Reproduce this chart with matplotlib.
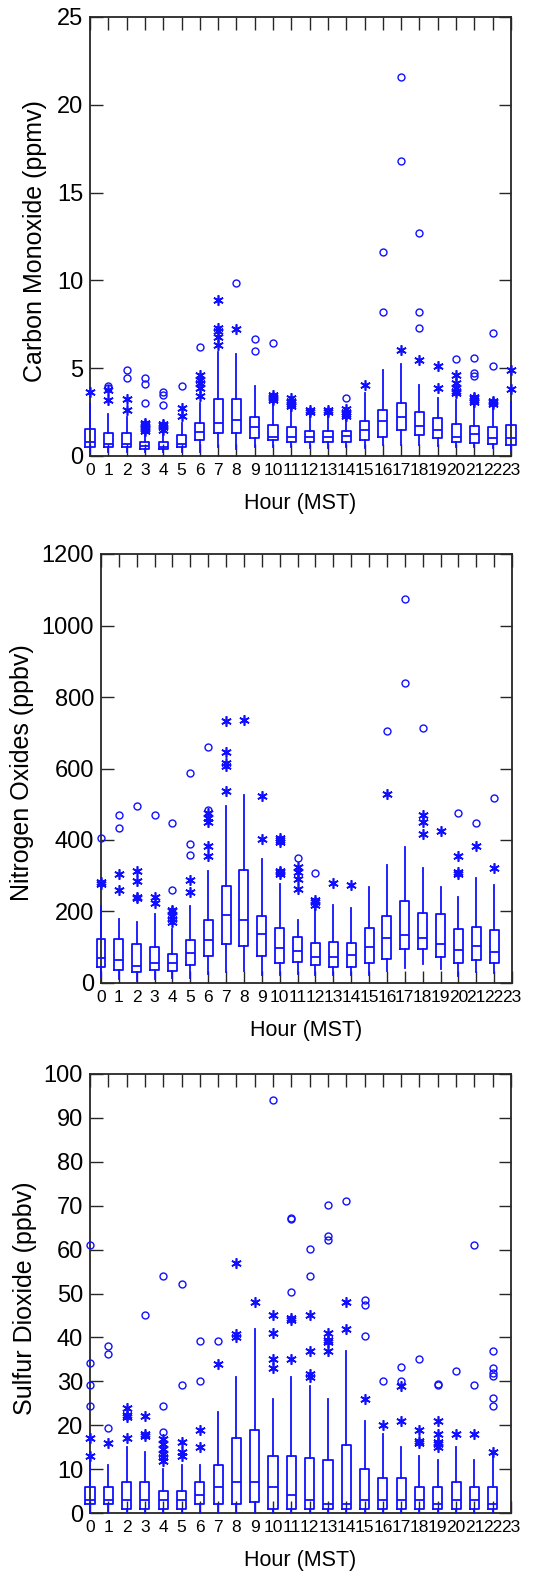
import matplotlib
matplotlib.use('Agg')
import matplotlib.pyplot as plt
from matplotlib import font_manager as fm

# ---------------- data ----------------
hours = list(range(24))
hour_labels = [str(h) for h in hours]

# Carbon monoxide (ppmv), hours 0-23
co_q1 = [0.49, 0.49, 0.49, 0.40, 0.40, 0.51, 0.91, 1.31, 1.31, 1.04, 0.91, 0.81,
         0.78, 0.78, 0.78, 0.91, 1.10, 1.48, 1.19, 1.00, 0.80, 0.76, 0.68, 0.63]
co_med = [0.81, 0.68, 0.70, 0.59, 0.53, 0.70, 1.34, 1.89, 2.03, 1.63, 1.10, 1.10,
          1.08, 1.10, 1.14, 1.48, 1.97, 2.20, 1.72, 1.48, 1.10, 1.23, 1.04, 1.03]
co_q3 = [1.52, 1.33, 1.33, 0.80, 0.81, 1.21, 1.89, 3.22, 3.22, 2.20, 1.78, 1.63,
         1.44, 1.42, 1.44, 2.00, 2.61, 2.99, 2.52, 2.14, 1.80, 1.72, 1.63, 1.75]
co_whi = [2.95, 2.42, 2.20, 1.40, 1.35, 1.90, 3.00, 5.90, 5.80, 4.00, 3.15, 2.60,
          2.45, 2.45, 2.10, 3.60, 4.89, 5.23, 4.02, 3.33, 3.20, 3.05, 2.90, 3.10]
co_wlo = [0.20, 0.20, 0.20, 0.20, 0.20, 0.20, 0.25, 0.50, 0.40, 0.50, 0.50, 0.50,
          0.45, 0.45, 0.50, 0.45, 0.65, 0.65, 0.60, 0.55, 0.50, 0.50, 0.45, 0.30]
co_star = [[3.62], [3.2, 3.75], [2.6, 3.22], [1.45, 1.55, 1.62, 1.7, 1.8, 1.88],
           [1.5, 1.65, 1.75, 1.85], [2.27, 2.75], [3.4, 3.9, 4.15, 4.35, 4.6],
           [6.3, 6.8, 7.1, 7.3, 8.9], [7.22], [], [3.2, 3.3, 3.38, 3.45],
           [2.85, 2.95, 3.05, 3.15, 3.3], [2.5, 2.6], [2.5, 2.6], [2.25, 2.4, 2.5, 2.7],
           [4.03], [], [6.02], [5.49], [3.9, 5.11], [3.6, 3.7, 3.85, 4.17, 4.6],
           [3.1, 3.2, 3.3, 3.37], [2.95, 3.05, 3.15], [3.8, 4.9]]
co_circ = [[], [3.88, 3.98], [4.45, 4.89], [3.0, 4.1, 4.45], [2.9, 3.5, 3.65], [3.98],
           [6.2], [], [9.87], [5.99, 6.69], [6.46], [], [], [], [3.28], [],
           [8.2, 11.6], [16.8, 21.6], [7.3, 8.2, 12.7], [], [5.5], [4.58, 4.7, 5.6],
           [5.15, 7.03], []]

# Nitrogen oxides (ppbv), hours 0-22
nox_q1 = [43.5, 36, 32, 36, 34, 51, 76, 110, 104, 76, 56.5, 59, 50, 46, 45, 56,
          68.5, 96, 94, 73, 57, 64, 56]
nox_med = [71, 65, 48, 56, 55, 84, 120, 189, 176, 136, 98, 90, 72, 74, 79, 99.5,
           127, 135, 125, 108, 91, 104, 88]
nox_q3 = [124, 124, 109, 100, 80.5, 119, 177, 272, 317, 187, 153, 129, 113, 115, 113,
          153, 187, 230, 196, 193, 152, 157, 148]
nox_whi = [215, 180, 170, 194, 150, 215, 314, 495, 525, 347, 277, 176, 215, 217, 210,
           268, 331, 381, 321, 269, 240, 294, 274]
nox_wlo = [16, 11, 6.5, 11, 13, 13, 25, 31, 34, 22, 22, 25, 22, 22, 22, 22, 34, 43,
           54, 39, 20, 31, 28]
nox_star = [[278, 282], [261, 305], [237, 241, 284, 312], [224, 241],
            [170, 178, 187, 201, 205], [255, 289], [355, 383, 450, 462, 475],
            [536, 607, 615, 647, 734], [736], [403, 523], [305, 310, 313, 394, 400, 405],
            [262, 290, 310, 325], [219, 226, 233], [280], [275], [], [529], [],
            [416, 450, 470], [425], [305, 311, 354], [384], [322]]
nox_circ = [[406], [433, 471], [495], [471], [261, 447], [358, 389, 587],
            [485, 660], [], [], [], [], [350], [307], [], [], [], [706],
            [840, 1075], [712], [], [476], [448], [517]]

# Sulfur dioxide (ppbv), hours 0-22
so2_q1 = [2, 2, 1, 1, 1, 1, 2, 2, 2, 2.4, 1, 1, 1, 1, 1, 1, 1, 1, 1, 1, 1, 1, 1]
so2_med = [3, 3, 3, 3, 3, 3, 4, 6, 7, 7, 6, 4, 3, 2, 2, 3, 3, 3, 3, 2, 3, 3, 2]
so2_q3 = [6, 6, 7, 7, 5, 5, 7, 11, 17, 19, 13, 13, 12.5, 12, 15.5, 10, 8, 8, 6, 6,
          7, 6, 6]
so2_whi = [12, 11, 15, 14, 10, 11, 11, 23, 31, 42, 26, 31, 29, 26, 37, 21, 18, 15,
           13, 12, 15, 12, 14]
so2_wlo = [0] * 23
so2_star = [[13, 17], [16], [17, 21.8, 22.3, 24], [17.6, 18, 22.2],
            [11.9, 12.7, 13.4, 14.6, 15.7, 16.9], [12.9, 14, 16.2], [15, 19], [34],
            [40, 40.7, 57], [48], [33, 35, 41, 45], [35, 44, 44.5], [31, 31.7, 37, 45],
            [37, 39, 39.3, 41], [42, 48], [26], [20], [21, 29], [16, 16.3, 19],
            [15, 15.7, 16.2, 18, 21], [18], [18], [14]]
so2_circ = [[24.4, 29.2, 34.1, 61.1], [19.3, 36.3, 38], [], [45], [18.5, 24.4, 54.1],
            [29.2, 52.2], [30, 39.2], [39.2], [], [], [94.1], [50.3, 67, 67.3],
            [54.1, 60.2], [62.1, 63, 70.1], [71], [40.3, 47.4, 48.5], [30.1], [30, 33.2],
            [35.1], [29.1, 29.3], [32.3], [29.2, 61.1], [24.3, 26.2, 31.2, 31.9, 33.1, 37]]

# ---------------- style ----------------
names = {f.name for f in fm.fontManager.ttflist}
narrow_ok = 'Liberation Sans Narrow' in names
NARROW = ['Liberation Sans Narrow', 'DejaVu Sans'] if narrow_ok else ['Liberation Sans', 'DejaVu Sans']
REG = ['Liberation Sans', 'DejaVu Sans']
plt.rcParams['font.family'] = REG

ytick_fs = 19 if narrow_ok else 17
xtick_fs = 14.5 if narrow_ok else 12.5
xlab_fs = 18 if narrow_ok else 15.5

BLUE = '#1010ff'
SPINE = '#262626'
W, H = 545, 1579

fig = plt.figure(figsize=(W / 100, H / 100), dpi=100)

panels = [
    dict(rect=(90, 17, 511, 456), q1=co_q1, med=co_med, q3=co_q3, whi=co_whi, wlo=co_wlo,
         star=co_star, circ=co_circ, ylim=(0, 25), yticks=[0, 5, 10, 15, 20, 25],
         ylabel='Carbon Monoxide (ppmv)', ylx=47),
    dict(rect=(101, 554, 512, 983), q1=nox_q1, med=nox_med, q3=nox_q3, whi=nox_whi,
         wlo=nox_wlo, star=nox_star, circ=nox_circ, ylim=(0, 1200),
         yticks=[0, 200, 400, 600, 800, 1000, 1200],
         ylabel='Nitrogen Oxides (ppbv)', ylx=34),
    dict(rect=(90, 1074, 511, 1513), q1=so2_q1, med=so2_med, q3=so2_q3, whi=so2_whi,
         wlo=so2_wlo, star=so2_star, circ=so2_circ, ylim=(0, 100),
         yticks=list(range(0, 101, 10)),
         ylabel='Sulfur Dioxide (ppbv)', ylx=37),
]

asterisk = (6, 2, 0)

for p in panels:
    l, t, r, b = p['rect']
    ax = fig.add_axes([l / W, 1 - b / H, (r - l) / W, (b - t) / H])
    n = len(p['med'])
    stats = []
    for i in range(n):
        stats.append(dict(med=p['med'][i], q1=p['q1'][i], q3=p['q3'][i],
                          whislo=p['wlo'][i], whishi=p['whi'][i], fliers=[]))
    art = ax.bxp(stats, positions=hours[:n], widths=0.5, showfliers=False,
                 showcaps=False, patch_artist=False,
                 boxprops=dict(color=BLUE, linewidth=1.3),
                 medianprops=dict(color=BLUE, linewidth=1.3),
                 whiskerprops=dict(color=BLUE, linewidth=1.3),
                 manage_ticks=False, zorder=3)
    for key in ('boxes', 'medians', 'whiskers'):
        for a in art[key]:
            a.set_clip_on(False)
    for i in range(n):
        if p['star'][i]:
            ax.plot([hours[i]] * len(p['star'][i]), p['star'][i], linestyle='none',
                    marker=asterisk, markersize=7.5, markeredgewidth=1.2,
                    color=BLUE, clip_on=False, zorder=4)
        if p['circ'][i]:
            ax.plot([hours[i]] * len(p['circ'][i]), p['circ'][i], linestyle='none',
                    marker='o', markersize=5, markeredgewidth=1.0,
                    markerfacecolor='none', markeredgecolor=BLUE, clip_on=False, zorder=4)
    ax.set_xlim(0, 23)
    ax.set_ylim(*p['ylim'])
    ax.set_xticks(hours)
    ax.set_xticklabels(hour_labels, fontsize=xtick_fs, family=NARROW)
    ax.set_yticks(p['yticks'])
    ax.set_yticklabels([str(v) for v in p['yticks']], fontsize=ytick_fs, family=NARROW)
    ax.tick_params(axis='both', direction='in', length=9, width=1.0, color=SPINE,
                   top=True, right=True)
    ax.tick_params(axis='x', pad=5)
    ax.tick_params(axis='y', pad=5)
    for s in ax.spines.values():
        s.set_linewidth(1.3)
        s.set_color(SPINE)
    ax.set_xlabel('Hour (MST)', fontsize=xlab_fs, family=NARROW)
    ax.xaxis.set_label_coords(0.5, -37 / (b - t))
    ax.set_ylabel(p['ylabel'], fontsize=18, family=REG)
    ax.yaxis.set_label_coords((p['ylx'] - l) / (r - l), 0.49)

fig.savefig('out.png', dpi=100)
